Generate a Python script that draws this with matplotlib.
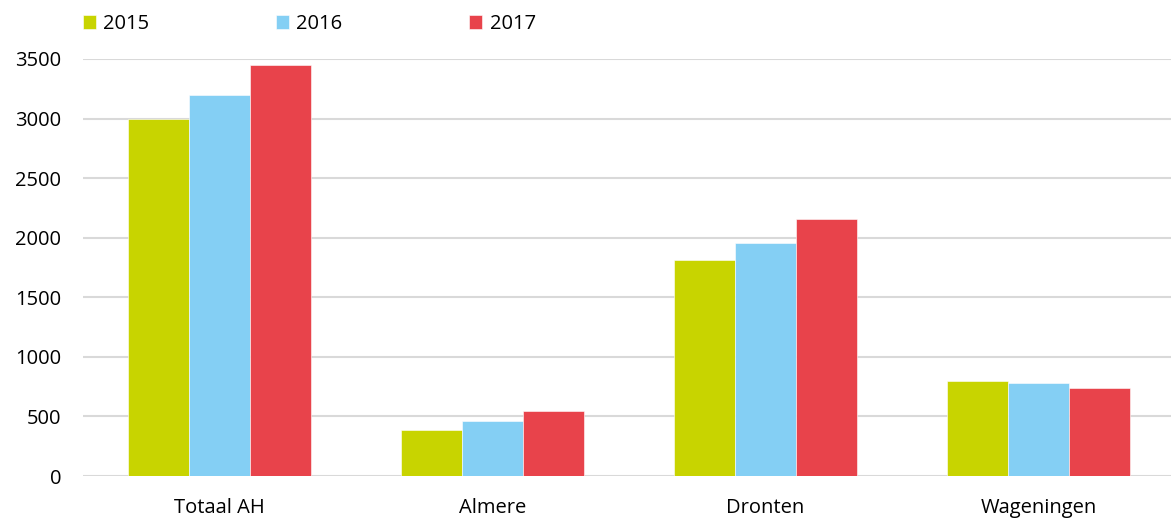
import matplotlib.pyplot as plt
import numpy as np

categories = ['Totaal AH', 'Almere', 'Dronten', 'Wageningen']
years = ['2015', '2016', '2017']
values_2015 = [3000, 385, 1815, 795]
values_2016 = [3200, 465, 1955, 780]
values_2017 = [3450, 548, 2160, 740]
colors = ['#C8D400', '#84CFF4', '#E8434B']

fig = plt.figure(figsize=(11.71, 5.2), dpi=100)
ax = fig.add_axes([83 / 1171, 1 - 476 / 520, 1 - 83 / 1171, (476 - 59) / 520])

x = np.arange(len(categories))
w = 0.2234
bars = []
for i, (vals, c) in enumerate(zip([values_2015, values_2016, values_2017], colors)):
    b = ax.bar(x + (i - 1) * w, vals, width=w, color=c, edgecolor='white', linewidth=0.4, zorder=3)
    bars.append(b)

ax.set_ylim(0, 3500)
ax.set_xlim(-0.5, -0.5 + (1171 - 83) / 273)
ax.set_yticks(range(0, 3501, 500))
ax.set_xticks(x)
ax.set_xticklabels(categories, fontsize=14.5, fontfamily='Open Sans')
for lab in ax.get_yticklabels():
    lab.set_fontfamily('Open Sans')
    lab.set_fontsize(14.5)
ax.tick_params(axis='y', length=0, pad=15.8, colors='black')
ax.tick_params(axis='x', length=0, pad=16, colors='black')
ax.grid(axis='y', color='#D9D9D9', linewidth=1.5, zorder=0)
ax.set_axisbelow(True)
for s in ax.spines.values():
    s.set_visible(False)

fig.legend(bars, years, loc='center left', bbox_to_anchor=(69 / 1171, 1 - 24 / 520),
           ncol=3, frameon=False, handlelength=0.65, handleheight=0.65,
           handletextpad=0.35, columnspacing=6.3, borderpad=0.2,
           prop={'family': 'Open Sans', 'size': 14.5})

fig.savefig('out.png', dpi=100)
